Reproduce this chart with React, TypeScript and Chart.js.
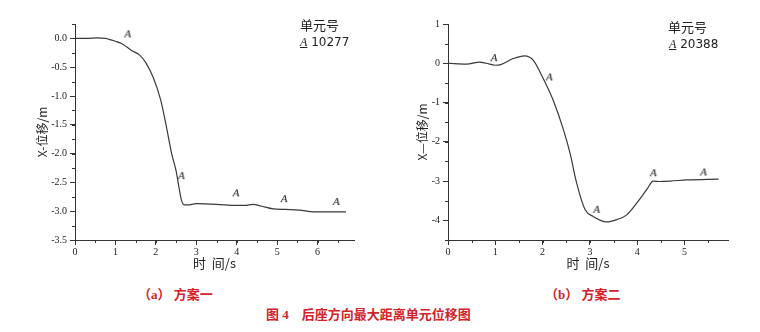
import React, { useEffect, useRef } from "react";
import { Chart, registerables } from "chart.js";

Chart.register(...registerables);

// ---- Data (a) 方案一, element 10277 ----
const T_A = [0, 0.3, 0.55, 0.75, 1.0, 1.15, 1.28, 1.4, 1.6, 1.75, 1.93, 2.12, 2.26, 2.39, 2.5, 2.57, 2.63, 2.7, 2.78, 3.0, 3.5, 4.0, 4.2, 4.4, 4.6, 4.9, 5.2, 5.55, 5.9, 6.2, 6.7];
const X_A = [0, 0, 0.01, 0, -0.05, -0.09, -0.15, -0.21, -0.29, -0.42, -0.67, -1.07, -1.53, -2.0, -2.3, -2.58, -2.8, -2.89, -2.89, -2.87, -2.88, -2.9, -2.9, -2.88, -2.91, -2.96, -2.97, -2.98, -3.01, -3.01, -3.01];
const MARK_T_A = [1.3, 2.63, 3.98, 5.17, 6.46];
const MARK_X_A = [0.07, -2.39, -2.69, -2.79, -2.84];
const TICKS_X_A = [0, 1, 2, 3, 4, 5, 6];
const TICKS_Y_A = [0, -0.5, -1, -1.5, -2, -2.5, -3, -3.5];

// ---- Data (b) 方案二, element 20388 ----
const T_B = [0, 0.39, 0.67, 0.81, 1.0, 1.1, 1.38, 1.62, 1.8, 2.01, 2.22, 2.44, 2.58, 2.72, 2.9, 3.07, 3.35, 3.57, 3.78, 3.99, 4.2, 4.34, 4.48, 4.7, 5.05, 5.72];
const X_B = [0, -0.02, 0.03, 0, -0.05, -0.04, 0.12, 0.19, 0.08, -0.38, -0.93, -1.69, -2.29, -3.05, -3.73, -3.9, -4.04, -3.98, -3.86, -3.56, -3.22, -3.0, -3.01, -3.0, -2.97, -2.95];
const MARK_T_B = [0.97, 2.14, 3.14, 4.34, 5.4];
const MARK_X_B = [0.13, -0.36, -3.73, -2.8, -2.78];
const TICKS_X_B = [0, 1, 2, 3, 4, 5];
const TICKS_Y_B = [1, 0, -1, -2, -3, -4];

const LINE = "#3a3a3a";
const AXIS = "#333";

function makeMarker(): HTMLCanvasElement {
  const c = document.createElement("canvas");
  c.width = 10;
  c.height = 12;
  const ctx = c.getContext("2d")!;
  ctx.fillStyle = "#111";
  ctx.font = "italic 11px 'Liberation Serif', serif";
  ctx.textAlign = "center";
  ctx.textBaseline = "middle";
  ctx.fillText("A", 5, 6);
  return c;
}

const minorTicks = {
  id: "minorTicks",
  afterDraw(chart: any, _args: any, opts: any) {
    const { ctx } = chart;
    ctx.save();
    ctx.strokeStyle = AXIS;
    ctx.lineWidth = 1;
    const xs = chart.scales.x;
    const ys = chart.scales.y;
    for (let v = 0; v <= xs.max + 1e-9; v += opts.x) {
      const p = Math.round(xs.getPixelForValue(v)) + 0.5;
      ctx.beginPath();
      ctx.moveTo(p, xs.top);
      ctx.lineTo(p, xs.top + 3);
      ctx.stroke();
    }
    for (let v = Math.ceil(ys.min / opts.y) * opts.y; v <= ys.max + 1e-9; v += opts.y) {
      const p = Math.round(ys.getPixelForValue(v)) + 0.5;
      ctx.beginPath();
      ctx.moveTo(ys.right, p);
      ctx.lineTo(ys.right - 3, p);
      ctx.stroke();
    }
    ctx.restore();
  },
};

type Cfg = {
  t: number[];
  x: number[];
  mt: number[];
  mx: number[];
  xTicks: number[];
  yTicks: number[];
  xMax: number;
  yMin: number;
  yMax: number;
  yTitle: string;
  yWidth: number;
  padRight: number;
  minorX: number;
  minorY: number;
  decimals: number;
};

function Plot({ cfg }: { cfg: Cfg }) {
  const ref = useRef<HTMLCanvasElement>(null);
  useEffect(() => {
    const marker = makeMarker();
    const tickFont = { family: "'Liberation Serif', serif", size: 10 };
    const chart = new Chart(ref.current!, {
      type: "line",
      data: {
        datasets: [
          {
            data: cfg.t.map((t, i) => ({ x: t, y: cfg.x[i] })),
            borderColor: LINE,
            borderWidth: 1.2,
            pointRadius: 0,
            cubicInterpolationMode: "monotone",
            fill: false,
          },
          {
            data: cfg.mt.map((t, i) => ({ x: t, y: cfg.mx[i] })),
            showLine: false,
            pointStyle: marker as any,
            pointRadius: 5,
          },
        ],
      },
      options: {
        animation: false,
        responsive: false,
        events: [],
        layout: { padding: { top: 24, right: cfg.padRight, left: 0, bottom: 0 } },
        plugins: {
          legend: { display: false },
          tooltip: { enabled: false },
          minorTicks: { x: cfg.minorX, y: cfg.minorY },
        } as any,
        scales: {
          x: {
            type: "linear",
            min: 0,
            max: cfg.xMax,
            afterBuildTicks: (s: any) => {
              s.ticks = cfg.xTicks.map((v) => ({ value: v }));
            },
            afterFit: (s: any) => {
              s.height = 40;
            },
            grid: { drawOnChartArea: false, drawTicks: true, tickLength: 5, color: AXIS },
            border: { display: true, color: AXIS, width: 1 },
            ticks: { color: "#222", font: tickFont, padding: 1, maxRotation: 0, callback: (v: any) => String(v) },
            title: {
              display: true,
              text: "时  间/s",
              color: "#222",
              font: { family: "'Noto Sans CJK SC', sans-serif", size: 13 },
              padding: { top: 0, bottom: 9 },
            },
          },
          y: {
            type: "linear",
            min: cfg.yMin,
            max: cfg.yMax,
            afterBuildTicks: (s: any) => {
              s.ticks = cfg.yTicks.map((v) => ({ value: v }));
            },
            afterFit: (s: any) => {
              s.width = cfg.yWidth;
            },
            grid: { drawOnChartArea: false, drawTicks: true, tickLength: 5, color: AXIS },
            border: { display: true, color: AXIS, width: 1 },
            ticks: {
              color: "#222",
              font: tickFont,
              padding: 3,
              callback: (v: any) => Number(v).toFixed(cfg.decimals),
            },
            title: {
              display: true,
              text: cfg.yTitle,
              color: "#222",
              font: { family: "'Noto Sans CJK SC', sans-serif", size: 12 },
              padding: { top: 35, bottom: 0 },
            },
          },
        },
      },
      plugins: [minorTicks],
    });
    return () => chart.destroy();
  }, [cfg]);
  return <canvas ref={ref} width={380} height={280} style={{ display: "block", width: 380, height: 280 }} />;
}

const CFG_A: Cfg = {
  t: T_A, x: X_A, mt: MARK_T_A, mx: MARK_X_A,
  xTicks: TICKS_X_A, yTicks: TICKS_Y_A,
  xMax: 6.9, yMin: -3.5, yMax: 0.25,
  yTitle: "X-位移/m", yWidth: 75, padRight: 26,
  minorX: 0.5, minorY: 0.25, decimals: 1,
};
const CFG_B: Cfg = {
  t: T_B, x: X_B, mt: MARK_T_B, mx: MARK_X_B,
  xTicks: TICKS_X_B, yTicks: TICKS_Y_B,
  xMax: 5.92, yMin: -4.5, yMax: 1,
  yTitle: "X—位移/m", yWidth: 68, padRight: 32,
  minorX: 0.5, minorY: 0.5, decimals: 0,
};

const legendTitle: React.CSSProperties = {
  position: "absolute",
  fontFamily: "'Noto Sans CJK SC', sans-serif",
  fontSize: 13,
  color: "#222",
  lineHeight: "16px",
  whiteSpace: "nowrap",
};
const legendItem: React.CSSProperties = {
  position: "absolute",
  fontFamily: "'DejaVu Sans', sans-serif",
  fontSize: 12,
  color: "#222",
  lineHeight: "14px",
  whiteSpace: "nowrap",
};
const caption: React.CSSProperties = {
  position: "absolute",
  fontFamily: "'Liberation Serif', 'Noto Sans CJK SC', serif",
  fontWeight: "bold",
  fontSize: 13,
  color: "#d2232a",
  whiteSpace: "nowrap",
  lineHeight: "16px",
};

export default function App() {
  return (
    <div style={{ position: "absolute", left: 0, top: 0, width: 760, height: 332, background: "#fff", overflow: "hidden" }}>
      <div style={{ position: "absolute", left: 0, top: 0 }}>
        <Plot cfg={CFG_A} />
      </div>
      <div style={{ position: "absolute", left: 380, top: 0 }}>
        <Plot cfg={CFG_B} />
      </div>
      <div style={{ ...legendTitle, left: 300, top: 17 }}>单元号</div>
      <div style={{ ...legendItem, left: 300, top: 35 }}>
        <span style={{ fontFamily: "'Liberation Serif', serif", fontStyle: "italic", textDecoration: "underline" }}>A</span> 10277
      </div>
      <div style={{ ...legendTitle, left: 668, top: 19 }}>单元号</div>
      <div style={{ ...legendItem, left: 669, top: 37 }}>
        <span style={{ fontFamily: "'Liberation Serif', serif", fontStyle: "italic", textDecoration: "underline" }}>A</span> 20388
      </div>
      <div style={{ ...caption, left: 138, top: 287 }}>（a） 方案一</div>
      <div style={{ ...caption, left: 545, top: 287 }}>（b） 方案二</div>
      <div style={{ ...caption, left: 266, top: 307 }}>图 4　后座方向最大距离单元位移图</div>
    </div>
  );
}
